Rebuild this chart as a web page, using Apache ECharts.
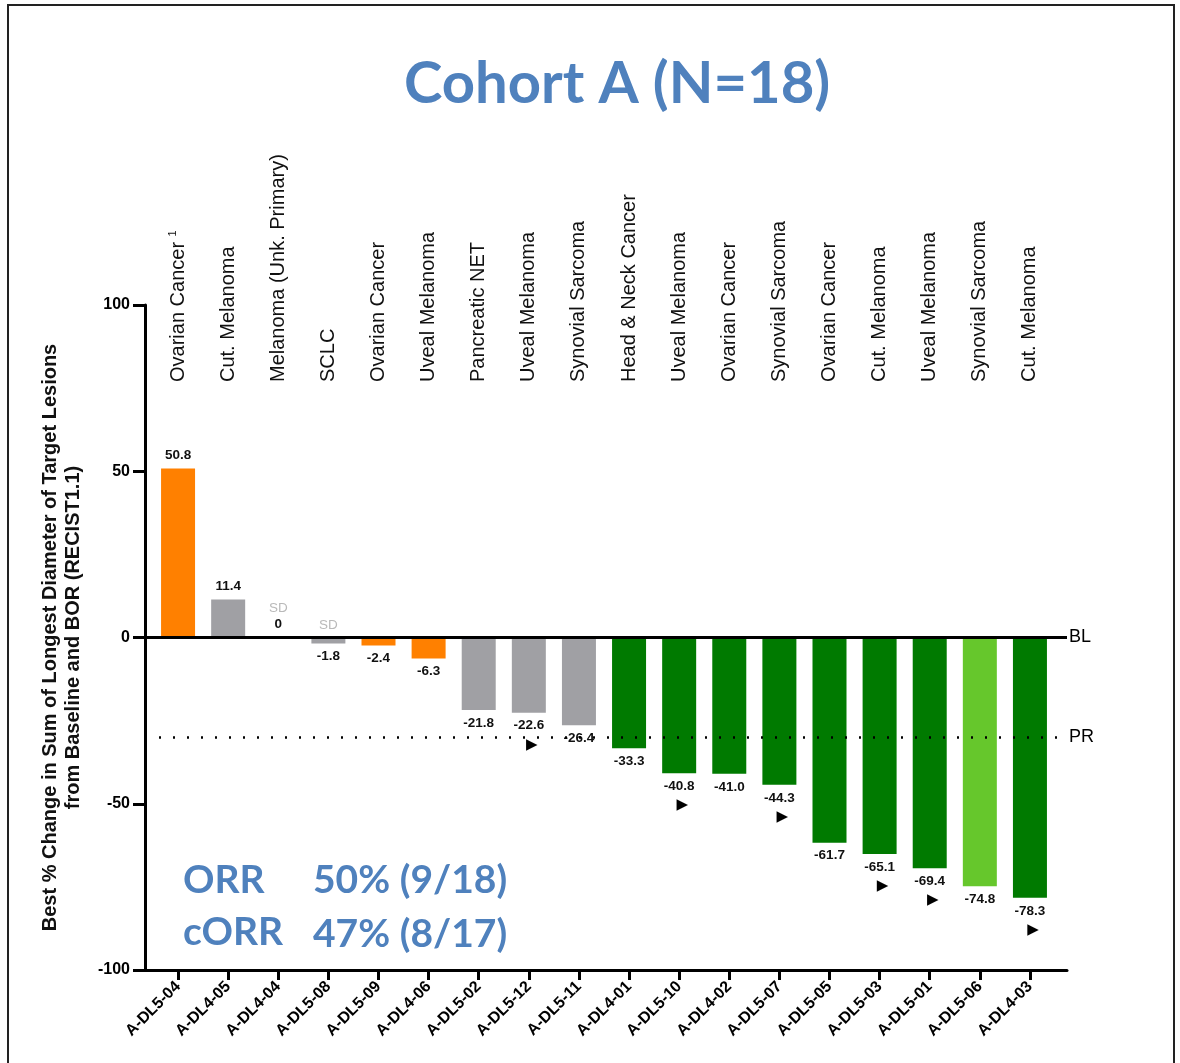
<!DOCTYPE html>
<html>
<head>
<meta charset="utf-8">
<title>Cohort A (N=18)</title>
<script src="https://cdn.jsdelivr.net/npm/echarts@6/dist/echarts.min.js"></script>
<style>
  html, body { margin: 0; padding: 0; background: #fff; }
  #chart { width: 1180px; height: 1063px; }
</style>
</head>
<body>
<div id="chart"></div>
<script>
// patient ids (bottom axis)
var patients = ['A-DL5-04', 'A-DL4-05', 'A-DL4-04', 'A-DL5-08', 'A-DL5-09', 'A-DL4-06',
  'A-DL5-02', 'A-DL5-12', 'A-DL5-11', 'A-DL4-01', 'A-DL5-10', 'A-DL4-02',
  'A-DL5-07', 'A-DL5-05', 'A-DL5-03', 'A-DL5-01', 'A-DL5-06', 'A-DL4-03'];
// tumour types (top labels)
var tumours = ['Ovarian Cancer', 'Cut. Melanoma', 'Melanoma (Unk. Primary)', 'SCLC',
  'Ovarian Cancer', 'Uveal Melanoma', 'Pancreatic NET', 'Uveal Melanoma',
  'Synovial Sarcoma', 'Head & Neck Cancer', 'Uveal Melanoma', 'Ovarian Cancer',
  'Synovial Sarcoma', 'Ovarian Cancer', 'Cut. Melanoma', 'Uveal Melanoma',
  'Synovial Sarcoma', 'Cut. Melanoma'];
// best % change from baseline
var bestChange = [50.8, 11.4, 0, -1.8, -2.4, -6.3, -21.8, -22.6, -26.4, -33.3,
  -40.8, -41.0, -44.3, -61.7, -65.1, -69.4, -74.8, -78.3];
// response group: pd / sd / pr / prUnconf
var response = ['pd', 'sd', 'sd', 'sd', 'pd', 'pd', 'sd', 'sd', 'sd', 'pr',
  'pr', 'pr', 'pr', 'pr', 'pr', 'pr', 'prUnconf', 'pr'];
// patients marked with an arrow (ongoing)
var ongoing = [0, 0, 0, 0, 0, 0, 0, 1, 0, 0, 1, 0, 1, 0, 1, 1, 0, 1];
// grey "SD" notes above the baseline
var sdNotes = [0, 0, 1, 1, 0, 0, 0, 0, 0, 0, 0, 0, 0, 0, 0, 0, 0, 0];
var baseline = 0;
var prThreshold = -30;
var yTicks = [-100, 100, 50];   // min, max, interval

var colors = {
  pd: '#FF8000',
  sd: '#A0A0A4',
  pr: '#007A00',
  prUnconf: '#66C72C'
};
var blue = '#4F81BD';
var font = 'Liberation Sans, Arial, sans-serif';
var bigFont = 'bold 39px Lato, Open Sans, sans-serif';

var chart = echarts.init(document.getElementById('chart'));

var barData = bestChange.map(function (v, i) {
  return {
    value: v,
    itemStyle: { color: colors[response[i]] },
    label: { position: v >= 0 ? 'top' : 'bottom' }
  };
});

var sdData = sdNotes.map(function (s, i) {
  if (!s) return null;
  return {
    value: [i, 0],
    label: { offset: [0, bestChange[i] === 0 ? -17 : 0] }
  };
}).filter(function (d) { return d; });

chart.setOption({
  animation: false,
  title: {
    text: 'Cohort A (N=18)',
    left: 399,
    top: 50,
    textStyle: { fontFamily: 'Lato, Open Sans, sans-serif', fontWeight: 'bold', fontSize: 58, color: blue }
  },
  graphic: [
    { type: 'rect', shape: { x: 8, y: 5, width: 1166, height: 1080 },
      style: { fill: 'none', stroke: '#222', lineWidth: 2 } },
    { type: 'text', left: 183, top: 861, style: { text: 'ORR', font: bigFont, fill: blue } },
    { type: 'text', left: 313, top: 861, style: { text: '50% (9/18)', font: bigFont, fill: blue } },
    { type: 'text', left: 183, top: 913, style: { text: 'cORR', font: bigFont, fill: blue } },
    { type: 'text', left: 313, top: 915, style: { text: '47% (8/17)', font: bigFont, fill: blue } }
  ],
  grid: [
    // axes frame + reference lines
    { left: 145, width: 922, top: 305, bottom: 93 },
    // bars
    { left: 153, width: 902, top: 305, bottom: 93 },
    // tumour type labels
    { left: 153, width: 902, top: 382, height: 1 }
  ],
  xAxis: [
    { gridIndex: 0, type: 'value', min: 0, max: 1,
      axisLine: { show: true, onZero: false, lineStyle: { color: '#000', width: 3 } },
      axisTick: { show: false }, axisLabel: { show: false }, splitLine: { show: false } },
    { gridIndex: 1, type: 'category', data: patients, position: 'bottom',
      axisLine: { show: false, onZero: false },
      axisTick: { show: true, alignWithLabel: true, length: 10, lineStyle: { color: '#000', width: 3 } },
      axisLabel: { rotate: 45, margin: 14, fontFamily: font, fontWeight: 'bold', fontSize: 16, color: '#000' } },
    { gridIndex: 2, type: 'category', data: tumours, position: 'top',
      axisLine: { show: false }, axisTick: { show: false },
      axisLabel: {
        rotate: 90, margin: 0, fontFamily: font, fontSize: 20, color: '#111',
        formatter: function (v, i) { return i === 0 ? v + ' {sup|1}' : v; },
        rich: { sup: { fontSize: 11, fontFamily: font, color: '#111', verticalAlign: 'top', padding: [0, 0, 10, 0] } }
      } }
  ],
  yAxis: [
    { gridIndex: 0, type: 'value', min: yTicks[0], max: yTicks[1], interval: yTicks[2],
      name: 'Best % Change in Sum of Longest Diameter of Target Lesions\nfrom Baseline and BOR (RECIST1.1)',
      nameLocation: 'middle', nameGap: 60,
      nameTextStyle: { fontFamily: font, fontWeight: 'bold', fontSize: 20, color: '#111', lineHeight: 23 },
      axisLine: { show: true, onZero: false, lineStyle: { color: '#000', width: 3 } },
      axisTick: { show: true, length: 12, lineStyle: { color: '#000', width: 3 } },
      axisLabel: { fontFamily: font, fontWeight: 'bold', fontSize: 16, color: '#000', margin: 15 },
      splitLine: { show: false } },
    { gridIndex: 1, type: 'value', min: yTicks[0], max: yTicks[1], show: false, splitLine: { show: false } },
    { gridIndex: 2, type: 'value', show: false, splitLine: { show: false } }
  ],
  series: [
    {
      name: 'lines', type: 'line', xAxisIndex: 0, yAxisIndex: 0, data: [],
      markLine: {
        symbol: 'none', silent: true, animation: false,
        data: [
          { yAxis: baseline, lineStyle: { type: 'solid', color: '#000', width: 3 },
            label: { formatter: 'BL', position: 'end', distance: 2, fontFamily: font, fontSize: 18, color: '#000' } },
          { yAxis: prThreshold, lineStyle: { type: [2, 12], color: '#000', width: 2.5 },
            label: { formatter: 'PR', position: 'end', distance: 2, fontFamily: font, fontSize: 18, color: '#000' } }
        ]
      }
    },
    {
      name: 'best change', type: 'bar', xAxisIndex: 1, yAxisIndex: 1,
      barWidth: 34, data: barData, z: 3,
      label: {
        show: true, distance: 4,
        formatter: function (p) {
          var txt = p.value === 0 ? '0' : p.value.toFixed(1);
          return ongoing[p.dataIndex] ? '{v|' + txt + '}\n{a|▶}' : '{v|' + txt + '}';
        },
        rich: {
          v: { fontFamily: font, fontWeight: 'bold', fontSize: 13.5, color: '#111', lineHeight: 18 },
          a: { fontFamily: 'DejaVu Sans, sans-serif', fontSize: 15, color: '#000', lineHeight: 20, padding: [0, 0, 0, 6] }
        }
      }
    },
    {
      name: 'SD', type: 'scatter', xAxisIndex: 1, yAxisIndex: 1,
      symbolSize: 0, data: sdData, z: 4,
      label: { show: true, position: 'top', distance: 5, formatter: 'SD',
        fontFamily: font, fontSize: 13.5, color: '#A8A8A8' }
    }
  ]
});
</script>
</body>
</html>
